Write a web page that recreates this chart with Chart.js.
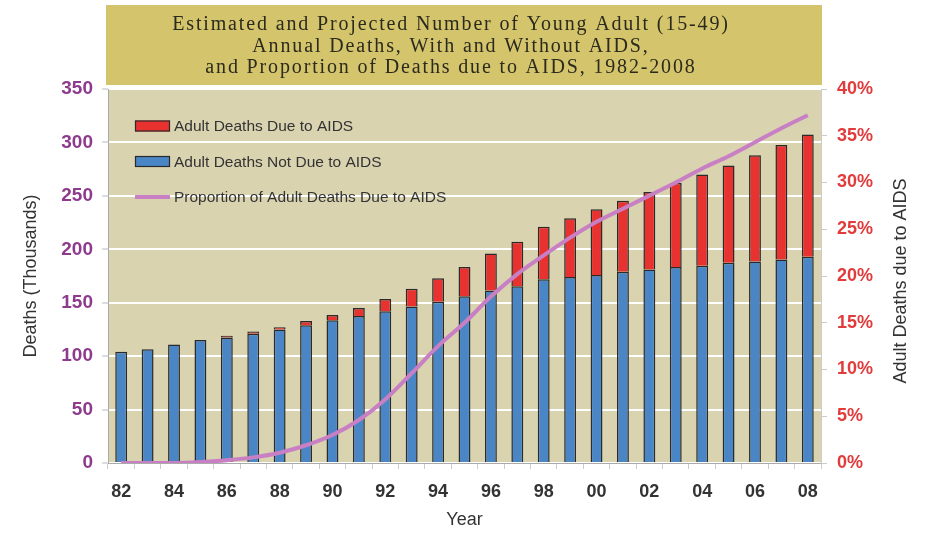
<!DOCTYPE html>
<html>
<head>
<meta charset="utf-8">
<script src="https://cdn.jsdelivr.net/npm/chart.js@4.4.1/dist/chart.umd.min.js"></script>
<style>
  html, body { margin: 0; padding: 0; background: #fff; }
  #wrap { width: 928px; height: 533px; }
</style>
</head>
<body>
<div id="wrap"><canvas id="chart" width="928" height="533"></canvas></div>
<script>
const years = ["82", "83", "84", "85", "86", "87", "88", "89", "90", "91", "92", "93", "94", "95",
  "96", "97", "98", "99", "00", "01", "02", "03", "04", "05", "06", "07", "08"];

// thousands of deaths
const notDueToAids = [104, 106.5, 111, 115, 117.5, 121, 125, 129, 133.5, 137.5, 142, 146.5, 151, 156,
  161.5, 165.5, 172, 174, 176, 179, 181, 183.5, 184.5, 187.5, 188.5, 190.5, 193];
const dueToAids = [0, 0, 0, 0, 1.5, 2, 2, 4, 5, 7.5, 11.5, 16.5, 22, 27.5,
  34.5, 41.5, 49, 55, 61.5, 66.5, 72.5, 78.5, 85.5, 91, 99.5, 107, 114.5];

// percent of adult deaths due to AIDS
const proportion = [0, 0, 0, 0.1, 0.3, 0.6, 1.1, 1.9, 3.0, 4.6, 6.8, 9.6, 12.5, 15.0,
  17.8, 20.2, 22.2, 24.1, 25.8, 27.2, 28.6, 30.0, 31.5, 32.8, 34.3, 35.8, 37.2];

const leftTicks = [0, 50, 100, 150, 200, 250, 300, 350];
const rightTicks = [0, 5, 10, 15, 20, 25, 30, 35, 40];

const titleLines = [
  "Estimated and Projected Number of Young Adult (15-49)",
  "Annual Deaths, With and Without AIDS,",
  "and Proportion of Deaths due to AIDS, 1982-2008",
];
const rightTitle = "Adult Deaths due to AIDS";

const RED = "#e8322f";
const BLUE = "#4a86c6";
const PINK = "#c87fc4";
const SANS = "'Liberation Sans', Arial, sans-serif";

const decorPlugin = {
  id: "decor",
  beforeDraw(chart) {
    const { ctx, chartArea } = chart;
    ctx.save();
    // title band
    ctx.fillStyle = "#d4c46c";
    ctx.fillRect(106, 5, 716, 80);
    ctx.fillStyle = "#2b2a1e";
    ctx.font = "20px 'Liberation Serif', 'Times New Roman', serif";
    ctx.letterSpacing = "1.85px";
    ctx.textAlign = "center";
    ctx.textBaseline = "alphabetic";
    titleLines.forEach((line, i) => ctx.fillText(line, 451, 30 + i * 21.5));
    ctx.letterSpacing = "0px";
    // plot background
    ctx.fillStyle = "#d9d3b0";
    ctx.fillRect(chartArea.left, chartArea.top, chartArea.right - chartArea.left, chartArea.bottom - chartArea.top);
    ctx.restore();
  },
  afterDraw(chart) {
    const { ctx, chartArea } = chart;
    const ds = chart.data.datasets;
    ctx.save();
    // legend (red, blue, line)
    const items = [ds[1], ds[0], ds[2]];
    const x0 = chartArea.left + 27;
    ctx.font = "15.5px " + SANS;
    ctx.textBaseline = "middle";
    items.forEach((d, i) => {
      const cy = chartArea.top + 37 + i * 35.5;
      if (d.type === "line") {
        ctx.strokeStyle = d.borderColor;
        ctx.lineWidth = 4;
        ctx.beginPath();
        ctx.moveTo(x0, cy);
        ctx.lineTo(x0 + 35, cy);
        ctx.stroke();
      } else {
        ctx.fillStyle = d.backgroundColor;
        ctx.fillRect(x0, cy - 5.5, 35, 11);
        ctx.strokeStyle = "#2a2a2a";
        ctx.lineWidth = 1.2;
        ctx.strokeRect(x0 + 0.5, cy - 5, 34, 10);
      }
      ctx.fillStyle = "#333";
      ctx.fillText(d.label, x0 + 39, cy + 1);
    });
    // right axis title, reading upward
    ctx.font = "18px " + SANS;
    ctx.translate(901, 281);
    ctx.rotate(-Math.PI / 2);
    ctx.textAlign = "center";
    ctx.fillStyle = "#333";
    ctx.fillText(rightTitle, 0, 0);
    ctx.restore();
  },
};

new Chart(document.getElementById("chart"), {
  data: {
    labels: years,
    datasets: [
      {
        type: "bar",
        label: "Adult Deaths Not Due to AIDS",
        data: notDueToAids,
        backgroundColor: BLUE,
        borderColor: "#2a2a2a",
        borderWidth: 1.5,
        barPercentage: 0.9,
        categoryPercentage: 0.5,
        yAxisID: "y",
        order: 1,
      },
      {
        type: "bar",
        label: "Adult Deaths Due to AIDS",
        data: dueToAids,
        backgroundColor: RED,
        borderColor: "#2a2a2a",
        borderWidth: 1.5,
        barPercentage: 0.9,
        categoryPercentage: 0.5,
        yAxisID: "y",
        order: 1,
      },
      {
        type: "line",
        label: "Proportion of Adult Deaths Due to AIDS",
        data: proportion,
        borderColor: PINK,
        borderWidth: 4,
        pointRadius: 0,
        cubicInterpolationMode: "monotone",
        yAxisID: "y1",
        order: 0,
      },
    ],
  },
  options: {
    responsive: false,
    animation: false,
    layout: { padding: { top: 89, left: 0, right: 0, bottom: 0 } },
    plugins: {
      legend: { display: false },
      tooltip: { enabled: false },
      title: { display: false },
    },
    scales: {
      x: {
        stacked: true,
        offset: true,
        grid: { drawOnChartArea: false, offset: true, tickLength: 6, tickColor: "#ccc" },
        border: { color: "#aaa" },
        ticks: {
          autoSkip: false,
          maxRotation: 0,
          padding: 12,
          color: "#333",
          font: { family: SANS, size: 18, weight: "bold" },
          callback: (v, i) => (i % 2 === 0 ? years[i] : ""),
        },
        title: {
          display: true,
          text: "Year",
          color: "#333",
          font: { family: SANS, size: 18 },
          padding: { top: 0, bottom: 2 },
        },
        afterFit: (s) => { s.height = 70; },
      },
      y: {
        stacked: true,
        position: "left",
        min: 0,
        max: 350,
        afterBuildTicks: (s) => { s.ticks = leftTicks.map((v) => ({ value: v })); },
        grid: { color: "#ffffff", lineWidth: 2, tickLength: 6, tickColor: "#bbb", tickWidth: 1 },
        border: { color: "#aaa" },
        ticks: {
          padding: 9,
          color: "#8e3b8e",
          font: { family: SANS, size: 19, weight: "bold" },
        },
        title: {
          display: true,
          text: "Deaths (Thousands)",
          color: "#333",
          font: { family: SANS, size: 18 },
          padding: { top: 20, bottom: 0 },
        },
        afterFit: (s) => { s.width = 108; },
      },
      y1: {
        position: "right",
        min: 0,
        max: 40,
        afterBuildTicks: (s) => { s.ticks = rightTicks.map((v) => ({ value: v })); },
        grid: { drawOnChartArea: false, tickLength: 6, tickColor: "#ccc" },
        border: { color: "#ccc" },
        ticks: {
          padding: 10,
          color: "#e23b3b",
          font: { family: SANS, size: 18, weight: "bold" },
          callback: (v) => v + "%",
        },
        afterFit: (s) => { s.width = 107; },
      },
    },
  },
  plugins: [decorPlugin],
});
</script>
</body>
</html>
